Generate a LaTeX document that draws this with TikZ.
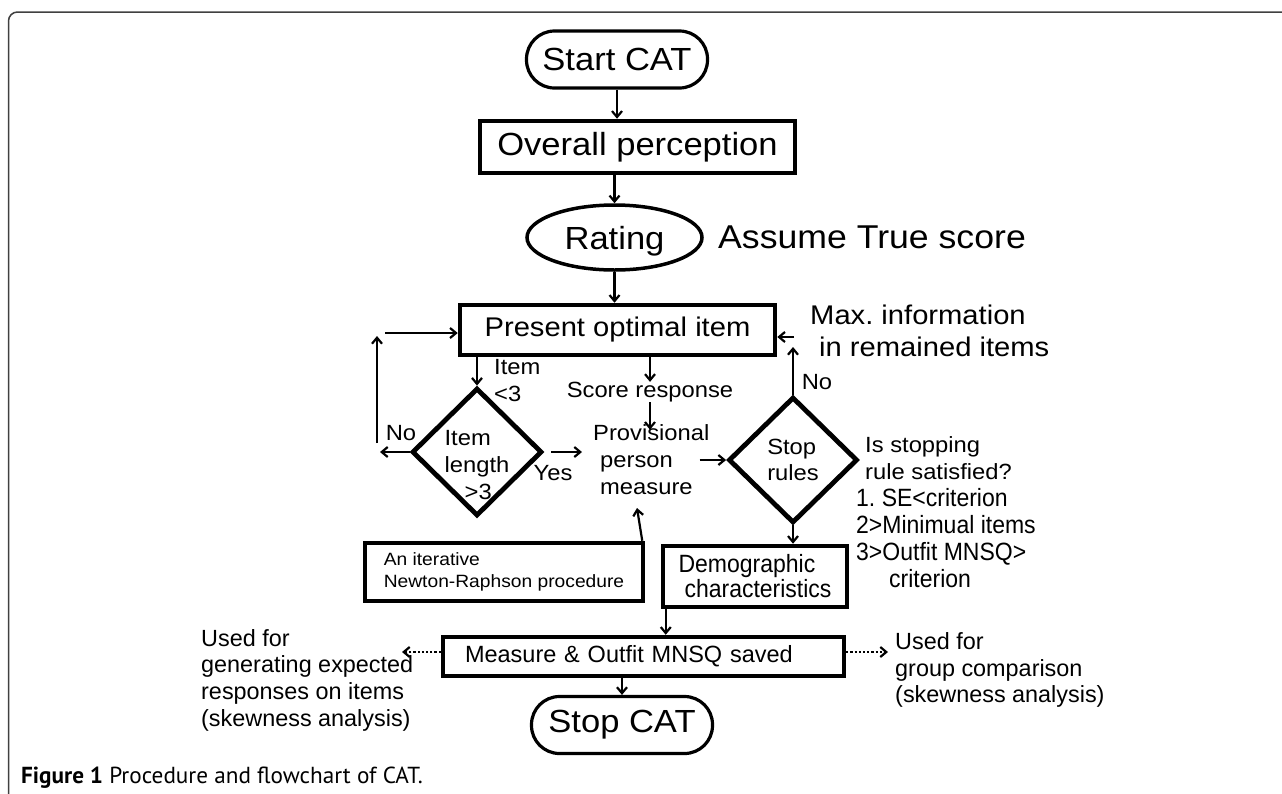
\documentclass[tikz,border=0pt]{standalone}
\usepackage{fontspec}
\setmainfont{Liberation Sans}[FakeStretch=1.08]
\newfontfamily\flatfont{Liberation Sans}
\newfontfamily\narrowfont{Liberation Sans}[FakeStretch=0.92]
\newfontfamily\capfont{PT Sans}
\usetikzlibrary{shapes.geometric,arrows.meta}
\newcommand{\fsz}[2]{\fontsize{#1}{#2}\selectfont}

\begin{document}
\begin{tikzpicture}[x=1pt,y=-1pt,
    box/.style={draw,line width=4.5pt,rectangle,inner sep=0pt},
    term/.style={draw,line width=3.2pt,rectangle,rounded corners=28pt,inner sep=0pt,
        minimum width=181pt,minimum height=57pt,font=\fsz{32}{38}},
    decision/.style={draw,line width=4.8pt,diamond,inner sep=-8pt,
        minimum width=130pt,minimum height=128pt},
    arr/.style={-{Straight Barb[length=6pt,width=10pt]},line width=2.2pt},
    dotarr/.style={arr,dotted},
    lbl/.style={inner sep=0pt,font=\fsz{22}{27}}]

    \useasboundingbox (0,0) rectangle (1282,793);
    \fill[white] (0,0) rectangle (1282,793);
    % frame
    \draw[line width=1.5pt,black!75,rounded corners=9pt] (8.5,800) -- (8.5,12) -- (1290,12);

    % main column
    \node[term] (start) at (617,59.5) {Start CAT};
    \node[box,minimum width=315pt,minimum height=52pt,font=\fsz{32}{38}] (overall) at (637.5,147) {Overall perception};
    \node[draw,ellipse,line width=3.5pt,inner sep=0pt,text depth=0pt,minimum width=175pt,minimum height=65pt,font=\fsz{32}{38}] (rating) at (614.5,237.5) {Rating};
    \node[anchor=west,inner sep=0pt,font=\fsz{33}{38}] (assume) at (718,237) {Assume True score};
    \node[box,minimum width=315pt,minimum height=50pt,font=\fsz{27}{32}] (present) at (617.5,330) {Present optimal item};
    \node[anchor=west,inner sep=0pt,align=left,font=\fsz{27}{32}] (maxinfo) at (810,331) {Max.\ information\\\hspace*{9pt}in remained items};

    % decisions
    \node[decision,label={[lbl,align=left,yshift=-13pt]center:Item\\length\\\hspace*{20pt}>3}] (item) at (477,452) {};
    \node[lbl,anchor=west,align=left] (itemlt) at (494,381) {Item\\<3};
    \node[lbl] (noleft) at (401,433) {No};
    \node[lbl] (yes) at (553,473) {Yes};
    \node[lbl] (score) at (650,392) {Score response};
    \node[lbl,anchor=west,align=left] (prov) at (593,460) {Provisional\\\hspace*{7pt}person\\\hspace*{7pt}measure};
    \node[decision,minimum width=129pt,minimum height=126pt,font=\fsz{22}{26},align=left] (stop) at (793,460) {Stop\\rules};
    \node[lbl] (noright) at (817,382) {No};
    \node[lbl,anchor=west,align=left] (rule) at (856,512) {\hspace*{9pt}Is stopping\\\hspace*{9pt}rule satisfied?\\
        {\narrowfont\fsz{25}{27}1.\ SE<criterion}\\{\narrowfont\fsz{25}{27}2>Minimual items}\\
        {\narrowfont\fsz{25}{27}3>Outfit MNSQ>}\\{\narrowfont\fsz{25}{27}\hspace*{33pt}criterion}};

    % lower part
    \node[box,minimum width=278pt,minimum height=58pt,align=left,font=\fsz{17.8}{22}] (newton) at (504,572) {An iterative\\Newton-Raphson procedure};
    \node[box,minimum width=184pt,minimum height=61pt,align=left,font=\narrowfont\fsz{25}{25}] (demo) at (755,576.5) {Demographic\\\hspace*{6pt}characteristics};
    \node[box,minimum width=401pt,minimum height=39pt,text width=357pt,align=left,font=\flatfont\fsz{23.5}{28}] (measure) at (643.5,656.5) {Measure \& Outfit MNSQ saved};
    \node[term] (stopcat) at (622,725) {Stop CAT};
    \node[anchor=west,inner sep=0pt,align=left,font=\flatfont\fsz{23.4}{26.7}] (useleft) at (201,680) {Used for\\generating expected\\responses on items\\(skewness analysis)};
    \node[anchor=west,inner sep=0pt,align=left,font=\flatfont\fsz{23.4}{26.7}] (useright) at (895,670) {Used for\\group comparison\\(skewness analysis)};

    \node[anchor=west,inner sep=0pt,font=\capfont\fsz{23.2}{27}] (caption) at (21,778) {\textbf{Figure 1} Procedure and flowchart of CAT.};

    % connectors
    \draw[arr] (start.south) -- (start.south |- overall.north);
    \draw[arr] (rating.north |- overall.south) -- (rating.north);
    \draw[arr] (rating.south) -- (rating.south |- present.north);
    \draw[arr] (item.north |- present.south) -- (item.north);
    \draw[arr] (score.north |- present.south) -- (score.north);
    \draw[arr,shorten >=-5pt] (score.south) -- (score.south |- prov.north);

    \coordinate (noend) at (380,452);
    \coordinate (loopa) at (377,443);
    \coordinate (loopb) at (377,336);
    \coordinate (loopc) at (385,333);
    \draw[arr] (item.west) -- (noend);
    \draw[arr] (loopa) -- (loopb);
    \draw[arr] (loopc) -- (loopc -| present.west);
    \draw[arr,shorten <=7pt,shorten >=11pt] (item.east) -- (item.east -| prov.west);
    \draw[arr,shorten <=-10pt] (stop.west -| prov.east) -- (stop.west);

    \coordinate (stopup) at (793,347);
    \coordinate (stopback) at (794,337);
    \draw[arr] (stop.north) -- (stopup);
    \draw[arr] (stopback) -- (stopback -| present.east);
    \draw[arr] (stop.south) -- (stop.south |- demo.north);

    \coordinate (provin) at (637,508);
    \draw[arr] ([xshift=-3pt]newton.north east) -- (provin);
    \draw[arr] ([xshift=5pt]demo.south west) -- ([xshift=5pt]demo.south west |- measure.north);
    \draw[arr] (stopcat.north |- measure.south) -- (stopcat.north);

    \coordinate (useL) at (402,652);
    \coordinate (useR) at (888,652);
    \draw[dotarr] ([yshift=4.5pt]measure.west) -- (useL);
    \draw[dotarr] ([yshift=4.5pt]measure.east) -- (useR);
\end{tikzpicture}
\end{document}
